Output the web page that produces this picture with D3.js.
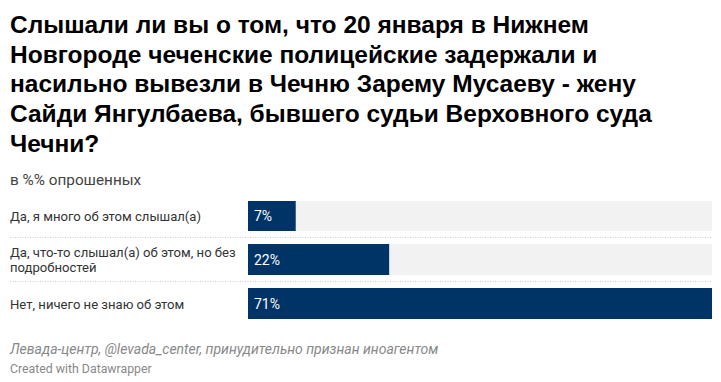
<!DOCTYPE html>
<html><head><meta charset="utf-8">
<script src="https://cdn.jsdelivr.net/npm/d3@7"></script>
<style>
body{margin:0;background:#fff;}
svg{display:block;font-family:Roboto,"Noto Sans",sans-serif;}
</style></head>
<body>
<script>
const titleLines = ["Слышали ли вы о том, что 20 января в Нижнем","Новгороде чеченские полицейские задержали и","насильно вывезли в Чечню Зарему Мусаеву - жену","Сайди Янгулбаева, бывшего судьи Верховного суда","Чечни?"];
const subtitle = "в %% опрошенных";
const categories = [["Да, я много об этом слышал(а)"],["Да, что-то слышал(а) об этом, но без","подробностей"],["Нет, ничего не знаю об этом"]];
const values = [7.3, 21.6, 71.0];
const source = "Левада-центр, @levada_center, принудительно признан иноагентом";
const credit = "Created with Datawrapper";

const W=721,H=382;
const svg=d3.select("body").append("svg").attr("width",W).attr("height",H);

svg.append("g").selectAll("text").data(titleLines).join("text")
  .attr("x",10).attr("y",(d,i)=>33+i*29.7)
  .attr("font-family","'Liberation Sans',Arial,sans-serif")
  .attr("font-size",24.5).attr("font-weight",700).attr("fill","#000").text(d=>d);

svg.append("text").attr("x",10).attr("y",185).attr("font-size",15.3).attr("fill","#444").text(subtitle);

const x=d3.scaleLinear().domain([0,d3.max(values)]).range([248,712]);
const rowTops=[201,244,288];
const barH=[30,31,31];
const y=d3.scaleOrdinal().domain(d3.range(3)).range(rowTops);

const rows=svg.append("g").selectAll("g").data(values).join("g");
rows.append("rect").attr("x",x(0)).attr("y",(d,i)=>y(i)).attr("width",x.range()[1]-x(0))
  .attr("height",(d,i)=>barH[i]).attr("fill","#f2f2f2");
rows.append("rect").attr("x",x(0)).attr("y",(d,i)=>y(i)).attr("width",d=>x(d)-x(0))
  .attr("height",(d,i)=>barH[i]).attr("fill","#003366");
rows.append("text").attr("x",x(0)+6).attr("y",(d,i)=>y(i)+barH[i]/2+5)
  .attr("font-size",14).attr("fill","#fff").text(d=>d3.format(".0f")(d)+"%");

rows.each(function(d,i){
  const lines=categories[i];
  const g=d3.select(this);
  const mid=y(i)+barH[i]/2;
  lines.forEach((t,j)=>{
    g.append("text").attr("x",10).attr("y",mid+5+(j-(lines.length-1)/2)*14.5)
     .attr("font-size",13.1).attr("fill","#333").text(t);
  });
});

// separators
svg.append("g").selectAll("line").data([237.5,281.5]).join("line")
  .attr("x1",10).attr("x2",712).attr("y1",d=>d).attr("y2",d=>d)
  .attr("stroke","#cccccc").attr("stroke-width",1).attr("stroke-dasharray","1,1.5");

svg.append("text").attr("x",10).attr("y",354).attr("font-size",14).attr("font-style","italic").attr("fill","#888").text(source);
svg.append("text").attr("x",10).attr("y",373).attr("font-size",12.3).attr("fill","#888").text(credit);
</script>
</body></html>
